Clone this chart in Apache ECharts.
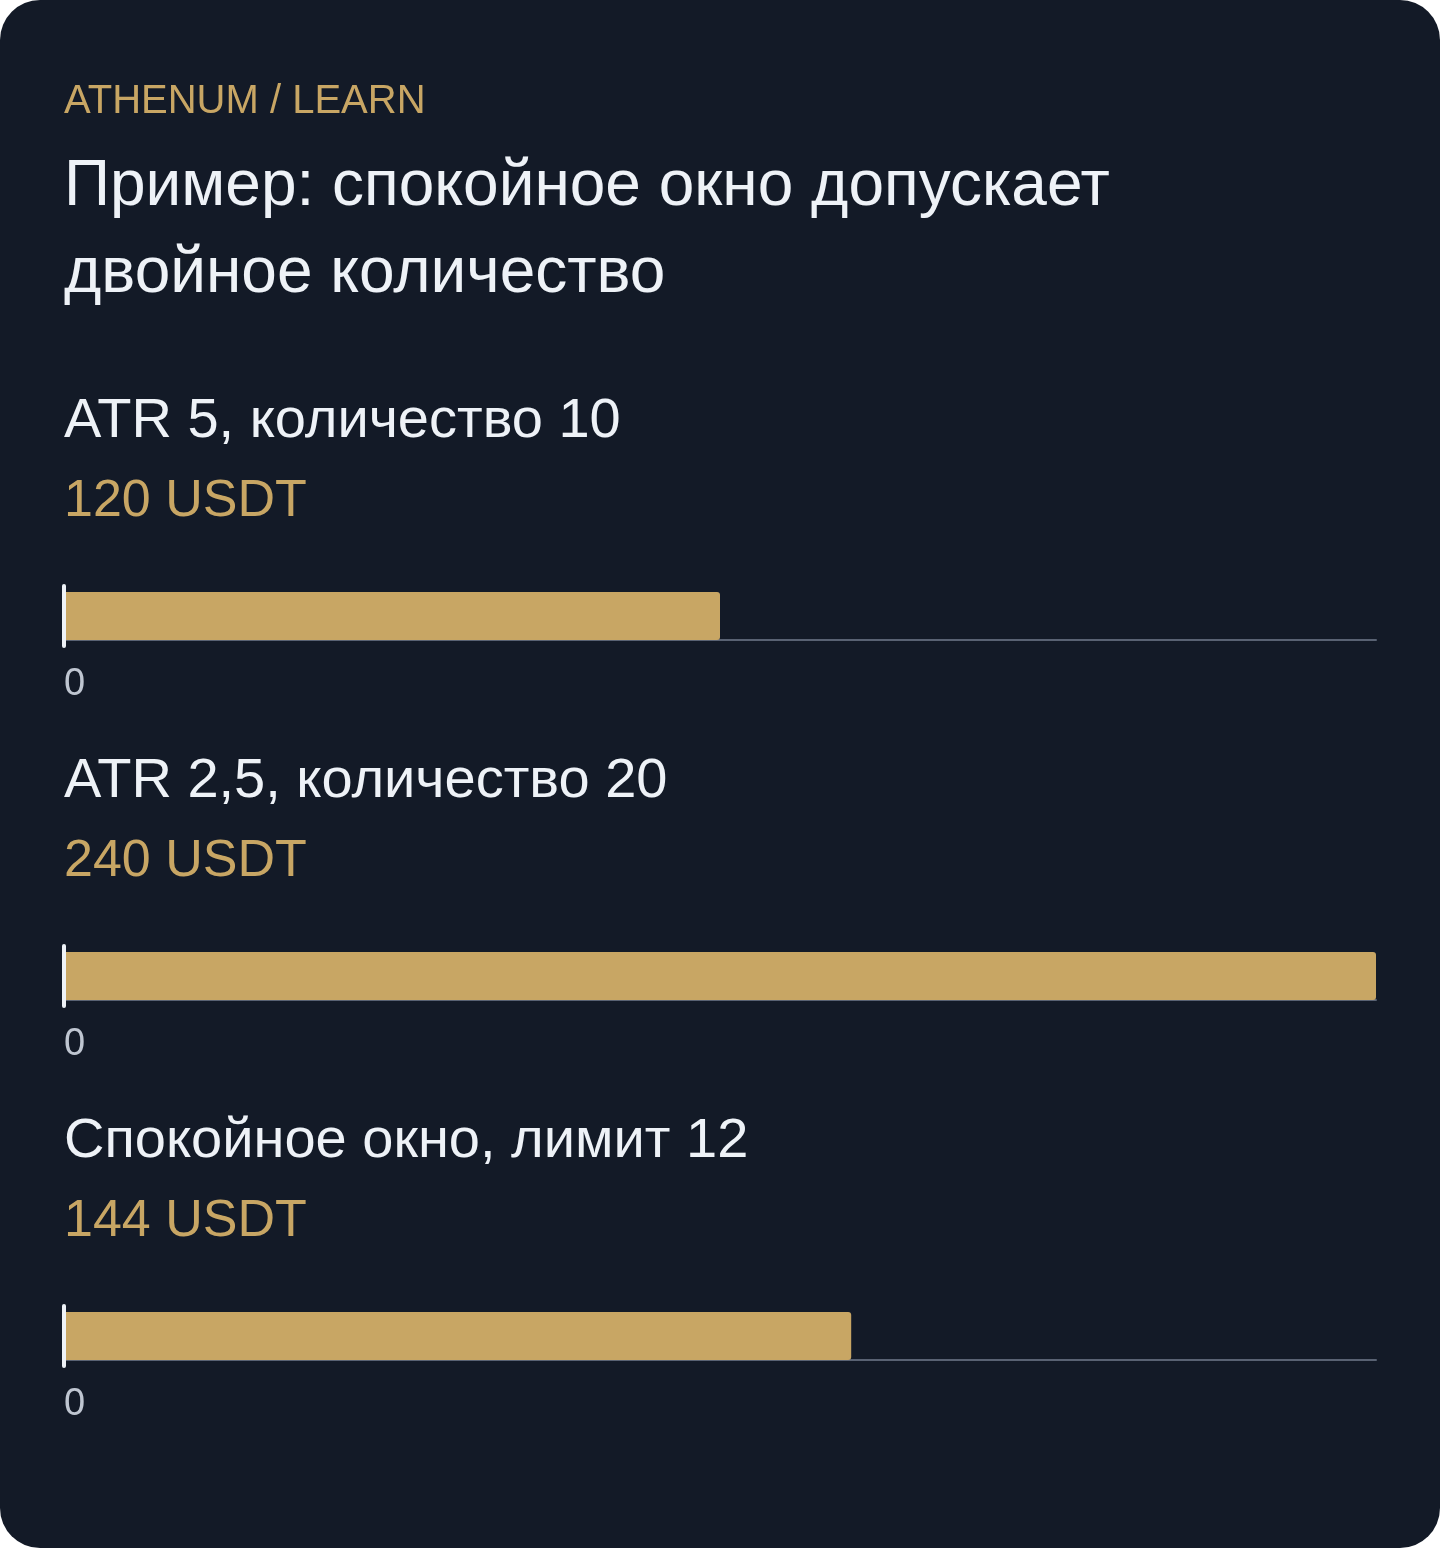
<!DOCTYPE html>
<html>
<head>
<meta charset="utf-8">
<script src="https://cdn.jsdelivr.net/npm/echarts@6/dist/echarts.min.js"></script>
<style>
  html, body { margin: 0; padding: 0; background: #ffffff; }
  #main { width: 1440px; height: 1548px; background: #131a27; border-radius: 40px; overflow: hidden; }
</style>
</head>
<body>
<div id="main"></div>
<script>
// chart data
const brand = 'ATHENUM / LEARN';
const headingLines = ['Пример: спокойное окно допускает', 'двойное количество'];
const categories = ['ATR 5, количество 10', 'ATR 2,5, количество 20', 'Спокойное окно, лимит 12'];
const values = [120, 240, 144];
const unit = 'USDT';
const axisMax = 240;

const FONT = '"Liberation Sans", Arial, Helvetica, sans-serif';
const GOLD = '#c8a664';
const WHITE = '#eef2f7';

let myChart = echarts.init(document.getElementById('main'), null, {renderer: 'canvas'});

let grids = [], xAxes = [], yAxes = [], series = [];
let texts = [];

texts.push({type: 'text', left: 64, top: 82,
    style: {text: brand, fill: GOLD, font: '40px ' + FONT, verticalAlign: 'middle'}});
headingLines.forEach(function(line, i) {
    texts.push({type: 'text', left: 64, top: 155 + i * 87,
        style: {text: line, fill: WHITE, font: '64px ' + FONT, verticalAlign: 'middle'}});
});

for (let i = 0; i < categories.length; i++) {
    let off = i * 360;
    texts.push({type: 'text', left: 64, top: 394 + off,
        style: {text: categories[i], fill: WHITE, font: '56px ' + FONT}});
    texts.push({type: 'text', left: 64, top: 476 + off,
        style: {text: values[i] + ' ' + unit, fill: GOLD, font: '52px ' + FONT}});

    grids.push({left: 64, right: 64, top: 586 + off, height: 60, containLabel: false});
    xAxes.push({
        type: 'value', gridIndex: i, min: 0, max: axisMax, interval: axisMax,
        offset: -6,
        axisLine: {show: true, lineStyle: {color: '#596273', width: 2}},
        axisTick: {show: false},
        splitLine: {show: false},
        axisLabel: {
            showMaxLabel: false, align: 'left', margin: 26,
            color: '#bfc6d1', fontSize: 38, fontFamily: FONT
        }
    });
    yAxes.push({
        type: 'category', gridIndex: i, data: [categories[i]], z: 5,
        axisLine: {show: true, lineStyle: {color: WHITE, width: 4}},
        axisTick: {show: false},
        axisLabel: {show: false}
    });
    series.push({
        type: 'bar', xAxisIndex: i, yAxisIndex: i,
        barWidth: 48,
        itemStyle: {color: GOLD, borderRadius: [0, 3, 3, 0]},
        data: [values[i]]
    });
}

let option = {
    backgroundColor: 'transparent',
    animation: false,
    grid: grids,
    xAxis: xAxes,
    yAxis: yAxes,
    series: series,
    graphic: texts
};
myChart.setOption(option);
</script>
</body>
</html>
